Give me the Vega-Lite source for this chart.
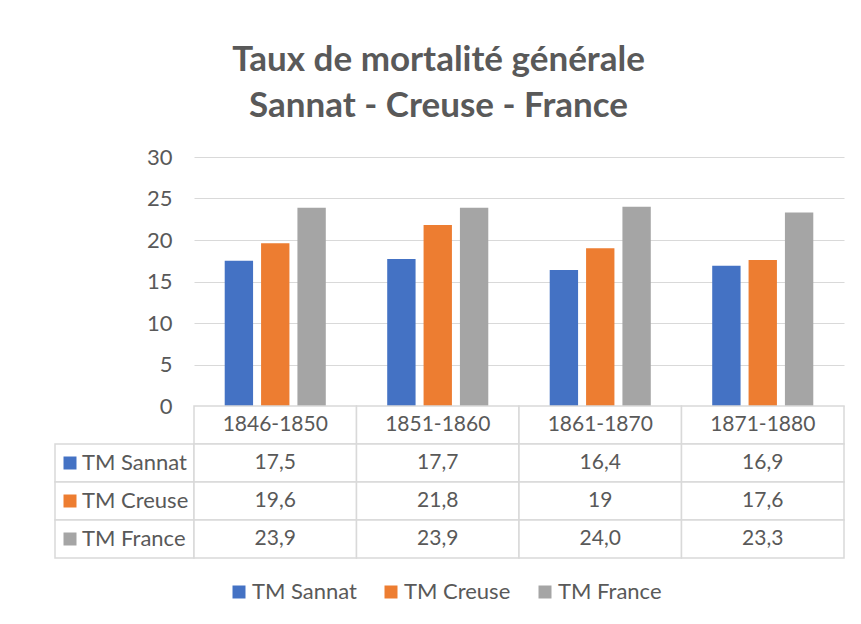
{
  "$schema": "https://vega.github.io/schema/vega-lite/v6.json",
  "background": "white",
  "padding": {"left": 54, "top": 43, "right": 8, "bottom": 10},
  "autosize": {"type": "pad"},
  "datasets": {
    "tm": [
      {"period": "1846-1850", "row": "header", "value": null, "label": "1846-1850"},
      {"period": "1846-1850", "row": "TM Sannat", "value": 17.5, "label": "17,5"},
      {"period": "1846-1850", "row": "TM Creuse", "value": 19.6, "label": "19,6"},
      {"period": "1846-1850", "row": "TM France", "value": 23.9, "label": "23,9"},
      {"period": "1851-1860", "row": "header", "value": null, "label": "1851-1860"},
      {"period": "1851-1860", "row": "TM Sannat", "value": 17.7, "label": "17,7"},
      {"period": "1851-1860", "row": "TM Creuse", "value": 21.8, "label": "21,8"},
      {"period": "1851-1860", "row": "TM France", "value": 23.9, "label": "23,9"},
      {"period": "1861-1870", "row": "header", "value": null, "label": "1861-1870"},
      {"period": "1861-1870", "row": "TM Sannat", "value": 16.4, "label": "16,4"},
      {"period": "1861-1870", "row": "TM Creuse", "value": 19.0, "label": "19"},
      {"period": "1861-1870", "row": "TM France", "value": 24.0, "label": "24,0"},
      {"period": "1871-1880", "row": "header", "value": null, "label": "1871-1880"},
      {"period": "1871-1880", "row": "TM Sannat", "value": 16.9, "label": "16,9"},
      {"period": "1871-1880", "row": "TM Creuse", "value": 17.6, "label": "17,6"},
      {"period": "1871-1880", "row": "TM France", "value": 23.3, "label": "23,3"}
    ]
  },
  "title": {
    "text": ["Taux de mortalité générale", "Sannat - Creuse - France"],
    "font": "Lato",
    "fontSize": 35,
    "fontWeight": "bold",
    "color": "#595959",
    "lineHeight": 46,
    "anchor": "middle",
    "offset": 22,
    "dx": -11
  },
  "columns": 2,
  "bounds": "flush",
  "spacing": 0,
  "concat": [
    {
      "width": 139,
      "height": 249,
      "data": {"values": [{}]},
      "mark": {"type": "text"},
      "encoding": {"text": {"value": ""}}
    },
    {
      "width": 650,
      "height": 249,
      "data": {"name": "tm"},
      "transform": [{"filter": "datum.row !== 'header'"}],
      "mark": {"type": "bar"},
      "encoding": {
        "x": {"field": "period", "type": "nominal", "sort": null, "axis": null,
              "scale": {"paddingInner": 0.378, "paddingOuter": 0.189}},
        "xOffset": {"field": "row", "type": "nominal", "sort": ["TM Sannat", "TM Creuse", "TM France"],
                    "scale": {"paddingInner": 0.22, "paddingOuter": 0}},
        "y": {"field": "value", "type": "quantitative",
              "scale": {"domain": [0, 30]},
              "axis": {"values": [0, 5, 10, 15, 20, 25, 30], "title": null, "domain": false, "ticks": false,
                       "labelPadding": 22, "gridColor": "#d9d9d9", "gridWidth": 1.2, "labelFontSize": 22}},
        "color": {"field": "row", "type": "nominal",
                  "scale": {"domain": ["TM Sannat", "TM Creuse", "TM France"], "range": ["#4472C4", "#ED7D31", "#A5A5A5"]},
                  "legend": {"orient": "none", "legendX": 173, "legendY": 424, "direction": "horizontal", "title": null,
                             "symbolType": "square", "symbolSize": 169, "symbolStrokeWidth": 0,
                             "labelFontSize": 22, "labelColor": "#595959", "labelFont": "Lato",
                             "columnPadding": 23, "labelOffset": 2}}
      }
    },
    {
      "width": 139,
      "height": 152,
      "data": {"name": "tm"},
      "transform": [{"filter": "datum.row !== 'header' && datum.period === '1846-1850'"}],
      "encoding": {
        "y": {"field": "row", "type": "nominal", "axis": null,
              "scale": {"domain": ["header", "TM Sannat", "TM Creuse", "TM France"], "paddingInner": 0, "paddingOuter": 0}}
      },
      "layer": [
        {"mark": {"type": "rect", "fill": "white", "stroke": "#d9d9d9", "strokeWidth": 1.5}},
        {"mark": {"type": "square", "size": 169, "opacity": 1},
         "encoding": {"x": {"value": 15}, "color": {"field": "row", "type": "nominal"}}},
        {"mark": {"type": "text", "align": "left", "fontSize": 22, "color": "#595959"},
         "encoding": {"x": {"value": 27}, "text": {"field": "row"}}}
      ]
    },
    {
      "width": 650,
      "height": 152,
      "data": {"name": "tm"},
      "encoding": {
        "x": {"field": "period", "type": "nominal", "sort": null, "axis": null,
              "scale": {"paddingInner": 0, "paddingOuter": 0}},
        "y": {"field": "row", "type": "nominal", "axis": null,
              "scale": {"domain": ["header", "TM Sannat", "TM Creuse", "TM France"], "paddingInner": 0, "paddingOuter": 0}}
      },
      "layer": [
        {"mark": {"type": "rect", "fill": "white", "stroke": "#d9d9d9", "strokeWidth": 1.5}},
        {"mark": {"type": "text", "fontSize": 21, "color": "#595959"},
         "encoding": {"text": {"field": "label"}}}
      ]
    }
  ],
  "resolve": {"scale": {"x": "independent", "y": "independent", "color": "shared"}},
  "config": {
    "font": "Lato",
    "view": {"stroke": null},
    "axis": {"labelFont": "Lato", "labelColor": "#595959"},
    "text": {"font": "Lato"}
  }
}
